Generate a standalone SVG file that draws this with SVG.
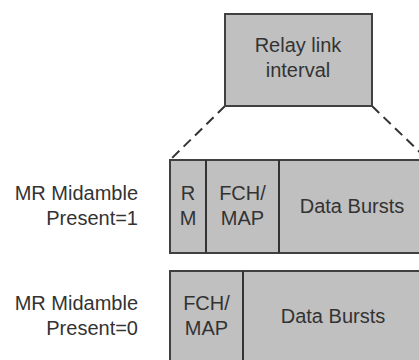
<svg xmlns="http://www.w3.org/2000/svg" width="419" height="360" viewBox="0 0 419 360">
<style>
.box{fill:#c0c0c0;stroke:#404040;stroke-width:2}
.div{stroke:#333;stroke-width:2}
text{font-family:"Liberation Sans",Arial,sans-serif;font-size:20px;fill:#333}
.c{text-anchor:middle}
.r{text-anchor:end}
.dash{stroke:#333;stroke-width:2;stroke-dasharray:10,6;fill:none}
</style>
<rect width="419" height="360" fill="#fff"/>
<g id="connectors">
<line class="dash" x1="225" y1="106" x2="170" y2="160"/>
<line class="dash" x1="372" y1="106" x2="428" y2="160"/>
</g>
<g id="relay">
<rect class="box" x="225" y="14" width="147" height="92"/>
<text class="c" x="298" y="52">Relay link</text>
<text class="c" x="298" y="77">interval</text>
</g>
<g id="label1">
<text class="r" x="138" y="200">MR Midamble</text>
<text class="r" x="138" y="225">Present=1</text>
</g>
<g id="row1">
<rect class="box" x="170" y="160" width="260" height="93"/>
<line class="div" x1="206" y1="160" x2="206" y2="253"/>
<line class="div" x1="279" y1="160" x2="279" y2="253"/>
<text class="c" x="188" y="200">R</text>
<text class="c" x="188" y="225">M</text>
<text class="c" x="242.5" y="200">FCH/</text>
<text class="c" x="242.5" y="225">MAP</text>
<text class="c" x="352" y="213">Data Bursts</text>
</g>
<g id="label0">
<text class="r" x="138" y="310">MR Midamble</text>
<text class="r" x="138" y="335">Present=0</text>
</g>
<g id="row0">
<rect class="box" x="170" y="271" width="260" height="100"/>
<line class="div" x1="243" y1="271" x2="243" y2="371"/>
<text class="c" x="206.5" y="310">FCH/</text>
<text class="c" x="206.5" y="335">MAP</text>
<text class="c" x="333" y="323">Data Bursts</text>
</g>
</svg>
